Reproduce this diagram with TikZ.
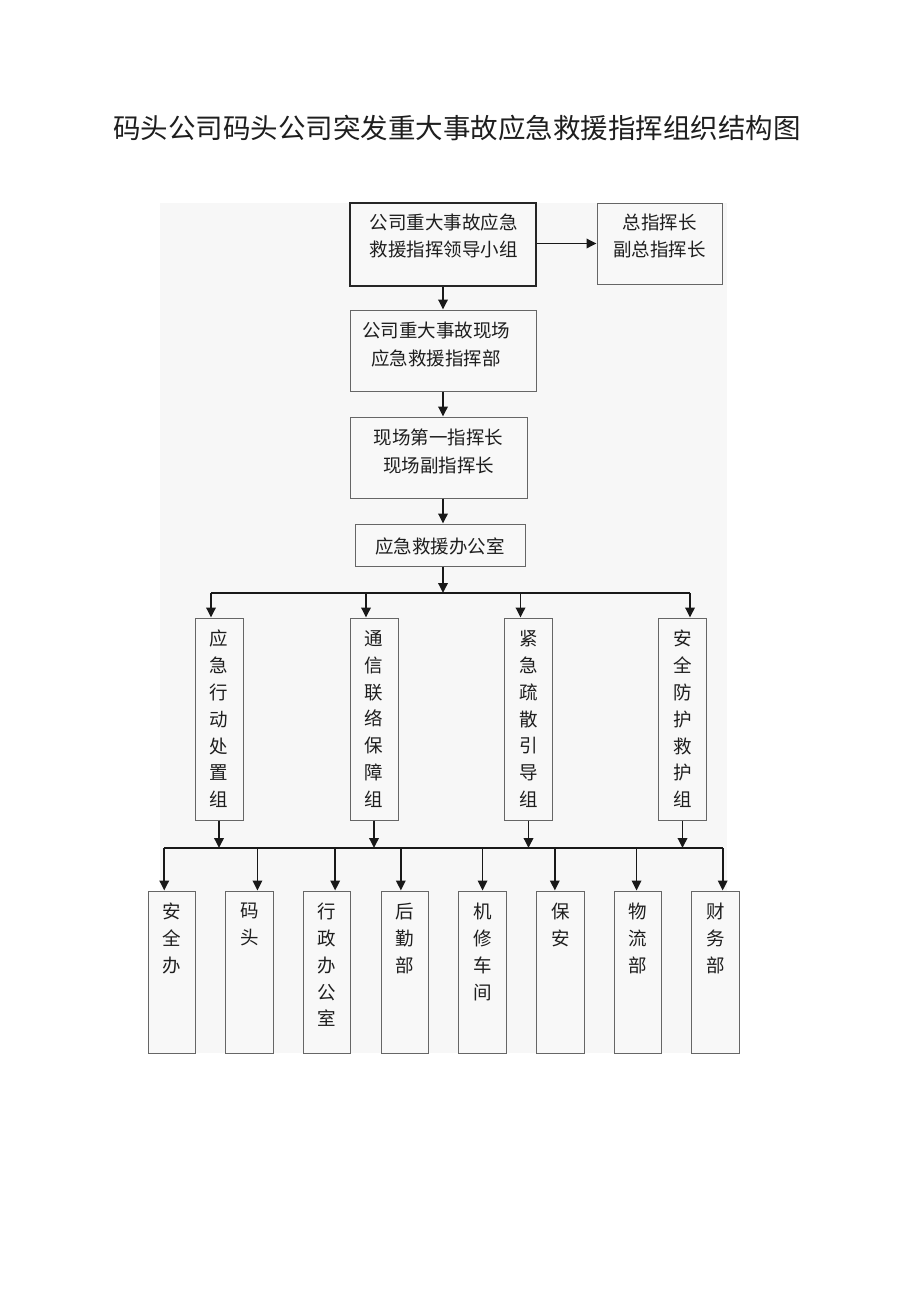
\documentclass[tikz,border=0pt]{standalone}
\usepackage{fontspec}
\newfontfamily\cjk{Noto Sans CJK SC}
\usetikzlibrary{arrows.meta}
\definecolor{bgfill}{HTML}{F7F7F7}
\definecolor{boxfill}{HTML}{F8F8F8}
\definecolor{edge}{HTML}{666666}
\definecolor{ink}{HTML}{1E1E1E}
\begin{document}
\begin{tikzpicture}[x=1pt,y=-1pt,
  box/.style={draw=edge, fill=boxfill, line width=1pt, inner sep=0pt},
  leadbox/.style={box, draw=black!85, line width=2pt},
  txt/.style={font=\cjk\fontsize{18.5}{27.5}\selectfont, inner sep=0pt, text=ink},
  vtxt/.style={font=\cjk\fontsize{18.5}{26.8}\selectfont, inner sep=0pt, align=center, text=ink},
  gbox/.style={box, minimum width=48pt, minimum height=202pt},
  dbox/.style={box, minimum width=47.5pt, minimum height=162pt},
  conn/.style={line width=1.8pt, black!90},
  arr/.style={conn, -{Triangle[length=10pt,width=9.5pt]}}
]
\useasboundingbox (0,0) rectangle (920,1301);
\fill[white] (0,0) rectangle (920,1301);
\fill[bgfill] (160,203) rectangle (727,1053);

% title
\node[font=\cjk\fontsize{27.5}{32}\selectfont, inner sep=0pt, text=ink] (title) at (457,128) {码头公司码头公司突发重大事故应急救援指挥组织结构图};

% top chain
\node[leadbox, minimum width=186pt, minimum height=83pt] (lead) at (443,244.5) {};
\node[txt, align=left] (leadt) at (443.5,236) {公司重大事故应急\\救援指挥领导小组};
\node[box, minimum width=125pt, minimum height=81pt] (chief) at (659.5,243.5) {};
\node[txt, align=center] (chieft) at (659.5,236) {总指挥长\\副总指挥长};
\node[box, minimum width=186pt, minimum height=81pt] (site) at (443,350.5) {};
\node[txt, align=center] (sitet) at (436,344.5) {公司重大事故现场\\应急救援指挥部};
\node[box, minimum width=177pt, minimum height=81pt] (cmd) at (438.5,457.5) {};
\node[txt, align=center] (cmdt) at (438.5,451.5) {现场第一指挥长\\现场副指挥长};
\node[box, minimum width=170pt, minimum height=42pt] (office) at (440,545) {};
\node[txt] (officet) at (440,546) {应急救援办公室};

\draw[arr] (lead.east |- chief.west) -- (chief.west);
\draw[arr] (lead.south) -- (lead.south |- site.north);
\draw[arr] (site.south -| lead.south) -- (lead.south |- cmd.north);
\draw[arr] (cmd.south -| lead.south) -- (lead.south |- office.north);

% groups
\node[gbox] (ga) at (219,719) {};
\node[gbox] (gb) at (374,719) {};
\node[gbox] (gc) at (528.5,719) {};
\node[gbox] (gd) at (682.5,719) {};
\node[vtxt] (gat) at (ga.center) {应\\急\\行\\动\\处\\置\\组};
\node[vtxt] (gbt) at (gb.center) {通\\信\\联\\络\\保\\障\\组};
\node[vtxt] (gct) at (gc.center) {紧\\急\\疏\\散\\引\\导\\组};
\node[vtxt] (gdt) at (gd.center) {安\\全\\防\\护\\救\\护\\组};

\coordinate (busL) at (211,593);
\coordinate (busR) at (690,593);
\draw[conn] (busL) -- (busR);
\draw[arr] (office.south -| lead.south) -- (lead.south |- busL);
\draw[arr] ([xshift=-8pt]ga.north |- busL) -- ([xshift=-8pt]ga.north);
\draw[arr] ([xshift=-8pt]gb.north |- busL) -- ([xshift=-8pt]gb.north);
\draw[arr] ([xshift=-8pt]gc.north |- busL) -- ([xshift=-8pt]gc.north);
\draw[arr] ([xshift=7.5pt]gd.north |- busL) -- ([xshift=7.5pt]gd.north);

% departments
\node[dbox] (d1) at (171.75,972) {};
\node[dbox] (d2) at (249.45,972) {};
\node[dbox] (d3) at (327.15,972) {};
\node[dbox] (d4) at (404.85,972) {};
\node[dbox] (d5) at (482.55,972) {};
\node[dbox] (d6) at (560.25,972) {};
\node[dbox] (d7) at (637.95,972) {};
\node[dbox] (d8) at (715.65,972) {};
\node[vtxt, anchor=north] (d1t) at (171.75,903) {安\\全\\办};
\node[vtxt, anchor=north] (d2t) at (249.45,903) {码\\头};
\node[vtxt, anchor=north] (d3t) at (327.15,903) {行\\政\\办\\公\\室};
\node[vtxt, anchor=north] (d4t) at (404.85,903) {后\\勤\\部};
\node[vtxt, anchor=north] (d5t) at (482.55,903) {机\\修\\车\\间};
\node[vtxt, anchor=north] (d6t) at (560.25,903) {保\\安};
\node[vtxt, anchor=north] (d7t) at (637.95,903) {物\\流\\部};
\node[vtxt, anchor=north] (d8t) at (715.65,903) {财\\务\\部};

\coordinate (bus2L) at (164.25,848);
\coordinate (bus2R) at (722.65,848);
\draw[conn] (bus2L) -- (bus2R);
\foreach \g in {ga,gb,gc,gd}{
  \draw[arr] (\g.south) -- (\g.south |- bus2L);
}
\foreach \d/\s in {d1/-7.5,d2/8,d3/8,d4/-4,d5/0,d6/-5.4,d7/-1.4,d8/7}{
  \draw[arr] ([xshift=\s pt]\d.north |- bus2L) -- ([xshift=\s pt]\d.north);
}
\end{tikzpicture}
\end{document}
